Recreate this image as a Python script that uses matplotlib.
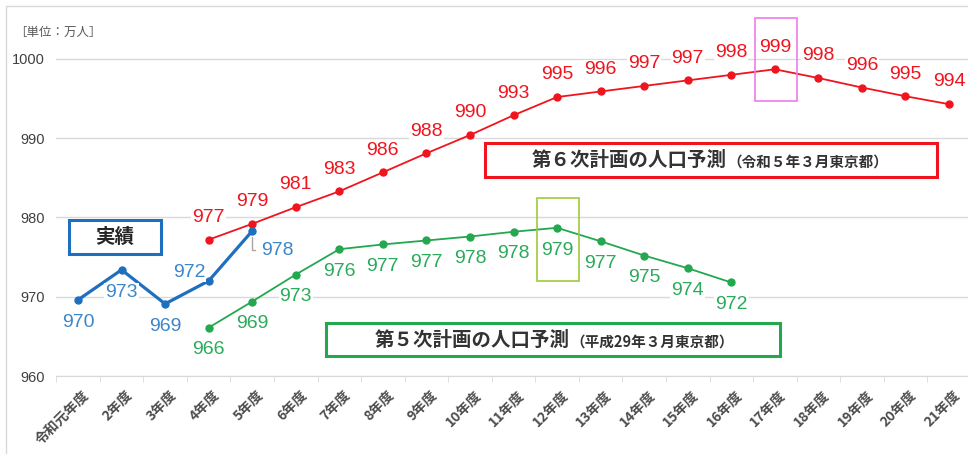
import numpy as np
import matplotlib.pyplot as plt
from matplotlib.patches import Rectangle
from matplotlib.transforms import ScaledTranslation

JP = ['Noto Sans CJK JP', 'DejaVu Sans']
NUM = ['Liberation Sans', 'DejaVu Sans']

BLUE = '#1f6fbf'
BLUE_TXT = '#3d86c9'
RED = '#f0141e'
GREEN = '#23a84f'
GREEN_TXT = '#2aab5a'
GRID = '#d9d9d9'

years = ['令和元年度', '2年度', '3年度', '4年度', '5年度', '6年度', '7年度',
         '8年度', '9年度', '10年度', '11年度', '12年度', '13年度', '14年度',
         '15年度', '16年度', '17年度', '18年度', '19年度', '20年度', '21年度']

# 実績 (令和元年度〜5年度)
actual = [969.6, 973.4, 969.1, 972.0, 978.3]
actual_start = 0

# 第6次計画の人口予測 (4年度〜21年度)
plan6 = [977.2, 979.2, 981.3, 983.3, 985.7, 988.1, 990.4, 992.9, 995.2,
         995.9, 996.6, 997.3, 998.0, 998.7, 997.6, 996.4, 995.3, 994.3]
plan6_start = 3

# 第5次計画の人口予測 (4年度〜16年度)
plan5 = [966.1, 969.4, 972.8, 976.0, 976.6, 977.1, 977.6, 978.2, 978.7,
         977.0, 975.2, 973.6, 971.8]
plan5_start = 3

# ラベル位置 (実績のみ個別)
actual_offsets = [(0, -16), (0, -16), (0, -16), (-14, 6), (18, -14)]


def label(ax, x, v, off, color):
    return ax.annotate(f'{v:.0f}', (x, v), xytext=off, textcoords='offset points',
                       ha='center', va='center', fontsize=14, color=color,
                       family=NUM, zorder=4,
                       bbox=dict(boxstyle='square,pad=0.05', fc='white', ec='none'))


fig = plt.figure(figsize=(9.68, 4.54), dpi=100)
fig.patches.append(Rectangle((6 / 968, -0.05), 1.1, 1.05 - 6 / 454, fill=False,
                             ec=GRID, lw=1, transform=fig.transFigure))
ax = fig.add_axes([0.0581, 0.1718, 0.9448, 0.8030])
ax.set_xlim(-0.5, 20.5)
ax.set_ylim(960, 1006)

for s in ['top', 'right', 'left']:
    ax.spines[s].set_visible(False)
ax.spines['bottom'].set_color(GRID)
ax.set_yticks([960, 970, 980, 990, 1000])
ax.grid(axis='y', color=GRID, lw=1)
ax.set_axisbelow(True)
ax.tick_params(axis='y', length=0, pad=8, labelsize=10.5, labelcolor='#404040')
for t in ax.get_yticklabels():
    t.set_family(NUM)

ax.set_xticks(range(len(years)))
ax.set_xticklabels(years, rotation=45, ha='right', va='top', rotation_mode='anchor',
                   fontsize=10, fontweight='bold', color='#4d4d4d', family=JP)
ax.set_xticks(np.arange(-0.5, len(years)), minor=True)
ax.tick_params(axis='x', which='major', length=0, pad=9)
ax.tick_params(axis='x', which='minor', length=4, color=GRID)
shift = ScaledTranslation(3 / 72, 0, fig.dpi_scale_trans)
for t in ax.get_xticklabels():
    t.set_transform(t.get_transform() + shift)

# 系列
x6 = np.arange(plan6_start, plan6_start + len(plan6))
ax.plot(x6, plan6, color=RED, lw=1.3, marker='o', ms=5, zorder=3)
for x, v in zip(x6, plan6):
    label(ax, x, v, (0, 16), RED)

x5 = np.arange(plan5_start, plan5_start + len(plan5))
ax.plot(x5, plan5, color=GREEN, lw=1.3, marker='o', ms=5, zorder=3)
for x, v in zip(x5, plan5):
    label(ax, x, v, (0, -16), GREEN_TXT)

xa = np.arange(actual_start, actual_start + len(actual))
ax.plot(xa, actual, color=BLUE, lw=2.3, marker='o', ms=5, zorder=3)
for i, (x, v) in enumerate(zip(xa, actual)):
    if i == len(actual) - 1:
        ax.annotate(f'{v:.0f}', (x, v), xytext=actual_offsets[i], textcoords='offset points',
                    ha='center', va='center', fontsize=14, color=BLUE_TXT, family=NUM,
                    zorder=4,
                    arrowprops=dict(arrowstyle='-', color='#a6a6a6', lw=1, shrinkA=2, shrinkB=4,
                                    relpos=(0, 0.5),
                                    connectionstyle='angle,angleA=0,angleB=90,rad=0'))
    else:
        label(ax, x, v, actual_offsets[i], BLUE_TXT)

# ピークの枠
i6 = int(np.argmax(plan6))
ax.add_patch(Rectangle((x6[i6] - 0.45, plan6[i6] - 4.0), 0.95, 10.5, fill=False,
                       ec='#f07ce6', lw=1.2, zorder=5))
i5 = int(np.argmax(plan5))
ax.add_patch(Rectangle((x5[i5] - 0.45, plan5[i5] - 6.7), 0.95, 10.5, fill=False,
                       ec='#9ccc3c', lw=1.2, zorder=5))

# 凡例ボックス
ax.add_patch(Rectangle((-0.21, 975.4), 2.12, 4.3, fc='white', ec=BLUE, lw=2.2, zorder=5))
ax.text(0.85, 977.5, '実績', ha='center', va='center', fontsize=14, fontweight='bold',
        color='#262626', family=JP, zorder=6)

ax.add_patch(Rectangle((9.35, 985.1), 10.37, 4.3, fc='white', ec=RED, lw=2.2, zorder=5))
ax.text(14.9, 986.45, '第６次計画の人口予測', ha='right', va='baseline', fontsize=14,
        fontweight='bold', color='#333333', family=JP, zorder=6)
ax.text(14.9, 986.45, '（令和５年３月東京都）', ha='left', va='baseline', fontsize=10.5,
        fontweight='bold', color='#333333', family=JP, zorder=6)

ax.add_patch(Rectangle((5.69, 962.5), 10.43, 4.2, fc='white', ec=GREEN, lw=2.2, zorder=5))
ax.text(11.3, 963.75, '第５次計画の人口予測', ha='right', va='baseline', fontsize=14,
        fontweight='bold', color='#333333', family=JP, zorder=6)
ax.text(11.3, 963.75, '（平成29年３月東京都）', ha='left', va='baseline', fontsize=10.5,
        fontweight='bold', color='#333333', family=JP, zorder=6)

fig.text(14 / 968, 1 - 32 / 454, '［単位：万人］', ha='left', va='center', fontsize=9,
         color='#595959', family=JP)

plt.savefig('out.png', dpi=100)
